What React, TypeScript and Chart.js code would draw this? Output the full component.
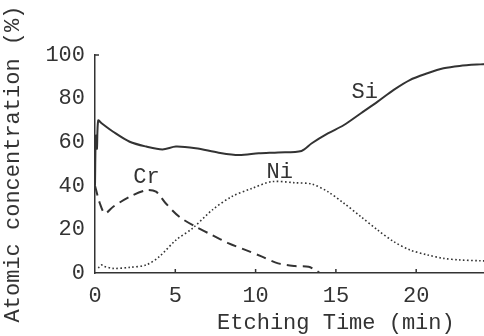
import { useEffect, useRef } from "react";
import { Chart, registerables } from "chart.js";

Chart.register(...registerables);

// Etching time (min) and atomic concentration (%)
const siTime = [0, 0.05, 0.12, 0.2, 0.41, 1.13, 2.16, 3.19, 4.2, 5.04, 6.27, 7.7, 8.95, 10.2, 11.4, 12.86, 13.5, 14.5, 15.5, 16.56, 17.6, 18.6, 19.6, 20.7, 21.7, 22.7, 24, 24.6];
const siValues = [40, 63, 57, 70, 68.7, 64.8, 60.2, 58, 56.7, 58, 57.2, 55.2, 54.1, 54.9, 55.3, 56, 59.5, 64, 67.9, 73.3, 78.6, 84, 88.5, 91.6, 93.9, 95, 95.7, 95.9];

const crTime = [0, 0.3, 0.62, 1.13, 2.16, 3.19, 3.8, 4.4, 5.25, 6.27, 7.3, 8.33, 9.36, 10.4, 11.4, 12.45, 13.3, 13.7, 14];
const crValues = [40, 32, 27.4, 30.4, 35, 38, 37.3, 32, 25.8, 21.2, 17.4, 13.6, 10.6, 7.5, 4.4, 3.2, 2.9, 1.4, 0];

const niTime = [0.2, 0.4, 0.51, 1.13, 2.16, 3.19, 4.0, 5.04, 6.07, 7.3, 8.5, 9.77, 11, 12.45, 13.5, 14.5, 15.5, 16.56, 17.6, 18.6, 19.6, 20.7, 21.7, 22.7, 24, 24.6];
const niValues = [2.3, 3.7, 3.2, 2.1, 2.6, 3.7, 7.5, 15.1, 20.5, 28.9, 35, 38.8, 41.9, 41.4, 40.8, 37.3, 32, 25.8, 19.7, 14.4, 10.6, 8.3, 6.7, 6, 5.6, 5.5];

const xTicks = [0, 5, 10, 15, 20, 25, 30];
const yTicks = [0, 20, 40, 60, 80, 100];

const seriesLabels = ["Si", "Cr", "Ni"];
const labelTime = [16.8, 3.2, 11.5];
const labelValue = [83, 44, 46.3];

const xTitle = "Etching Time (min)";
const yTitle = "Atomic concentration (%)";

const ink = "#333333";
const fontFamily = "'Liberation Mono', 'DejaVu Sans Mono', monospace";

function pts(t: number[], v: number[]) {
  return t.map((x, i) => ({ x, y: v[i] }));
}

const annotPlugin = {
  id: "annot",
  afterDatasetsDraw(chart: any) {
    const { ctx } = chart;
    const x = chart.scales.x;
    const y = chart.scales.y;
    ctx.save();
    ctx.strokeStyle = ink;
    ctx.lineWidth = 1.5;
    xTicks.forEach((t) => {
      if (t === 0) return;
      const px = x.getPixelForValue(t);
      ctx.beginPath();
      ctx.moveTo(px, y.bottom);
      ctx.lineTo(px, y.bottom - 4);
      ctx.stroke();
    });
    const topPx = y.getPixelForValue(100);
    ctx.beginPath();
    ctx.moveTo(x.left, topPx);
    ctx.lineTo(x.left + 4, topPx);
    ctx.stroke();
    ctx.fillStyle = ink;
    ctx.font = `22px ${fontFamily}`;
    ctx.textAlign = "center";
    ctx.textBaseline = "middle";
    seriesLabels.forEach((s, i) => {
      ctx.fillText(s, x.getPixelForValue(labelTime[i]), y.getPixelForValue(labelValue[i]));
    });
    ctx.restore();
  },
};

export default function App() {
  const ref = useRef<HTMLCanvasElement | null>(null);
  useEffect(() => {
    if (!ref.current) return;
    const chart = new Chart(ref.current, {
      type: "line",
      data: {
        datasets: [
          {
            label: "Si",
            data: pts(siTime, siValues),
            borderColor: ink,
            borderWidth: 2,
            pointRadius: 0,
            tension: 0.3,
          },
          {
            label: "Cr",
            data: pts(crTime, crValues),
            borderColor: ink,
            borderWidth: 2,
            borderDash: [10, 6],
            pointRadius: 0,
            tension: 0.3,
          },
          {
            label: "Ni",
            data: pts(niTime, niValues),
            borderColor: ink,
            borderWidth: 1.6,
            borderDash: [1.6, 2.4],
            pointRadius: 0,
            tension: 0.3,
          },
        ],
      },
      options: {
        animation: false,
        responsive: false,
        maintainAspectRatio: false,
        layout: { padding: { top: 55, right: 19, left: 0, bottom: 0 } },
        plugins: { legend: { display: false }, tooltip: { enabled: false } },
        scales: {
          x: {
            type: "linear",
            min: 0,
            max: 30,
            afterBuildTicks: (s: any) => {
              s.ticks = xTicks.map((v) => ({ value: v }));
            },
            afterFit: (s: any) => {
              s.height = 63;
            },
            grid: { display: false, drawTicks: false },
            border: { display: true, color: ink, width: 1.5 },
            ticks: {
              color: ink,
              font: { family: fontFamily, size: 22 },
              padding: 10,
              maxRotation: 0,
            },
            title: {
              display: true,
              text: xTitle,
              color: ink,
              font: { family: fontFamily, size: 22 },
              padding: { top: 0, bottom: 0 },
            },
          },
          y: {
            min: 0,
            max: 100,
            afterBuildTicks: (s: any) => {
              s.ticks = yTicks.map((v) => ({ value: v }));
            },
            afterFit: (s: any) => {
              s.width = 95;
            },
            grid: { display: false, drawTicks: false },
            border: { display: true, color: ink, width: 1.5 },
            ticks: {
              color: ink,
              font: { family: fontFamily, size: 22 },
              padding: 10,
            },
            title: {
              display: true,
              text: yTitle,
              color: ink,
              font: { family: fontFamily, size: 22 },
              padding: { top: 0, bottom: 0 },
            },
          },
        },
      },
      plugins: [annotPlugin],
    });
    return () => chart.destroy();
  }, []);
  return (
    <div
      style={{
        position: "fixed",
        left: 0,
        top: 0,
        width: 484,
        height: 336,
        overflow: "hidden",
        background: "#ffffff",
      }}
    >
      <canvas ref={ref} width={600} height={336} style={{ display: "block" }} />
    </div>
  );
}
